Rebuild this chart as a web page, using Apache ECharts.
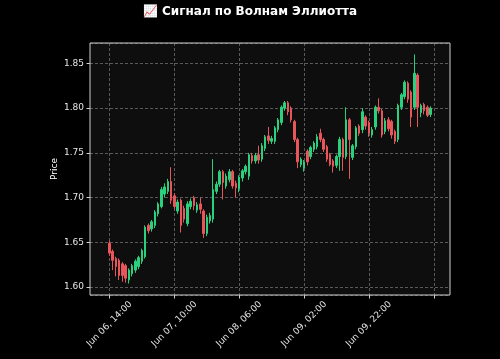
<!DOCTYPE html>
<html>
<head>
<meta charset="utf-8">
<script src="https://cdn.jsdelivr.net/npm/echarts@6/dist/echarts.min.js"></script>
<style>
html,body{margin:0;padding:0;background:#000;}
#chart{width:500px;height:359px;}
</style>
</head>
<body>
<div id="chart"></div>
<script>
// ---- data (hourly candles starting Jun 06, 14:00) ----
const startLabel = 'Jun 06, 14:00';
const openV = [1.649,1.640,1.632,1.630,1.626,1.624,1.608,1.615,1.619,1.623,
1.629,1.634,1.669,1.665,1.669,1.682,1.690,1.704,1.707,1.718,
1.702,1.685,1.697,1.688,1.671,1.690,1.700,1.686,1.693,1.685,
1.660,1.674,1.676,1.707,1.715,1.729,1.713,1.720,1.729,1.716,
1.710,1.722,1.729,1.724,1.747,1.741,1.748,1.743,1.755,1.769,
1.763,1.763,1.776,1.784,1.800,1.806,1.800,1.785,1.765,1.737,
1.733,1.752,1.746,1.754,1.757,1.772,1.765,1.757,1.748,1.741,
1.736,1.746,1.765,1.746,1.787,1.745,1.757,1.780,1.776,1.790,
1.784,1.770,1.779,1.801,1.797,1.774,1.787,1.785,1.774,1.765,
1.801,1.813,1.828,1.818,1.801,1.837,1.795,1.804,1.801,1.793];
const closeV = [1.638,1.630,1.623,1.613,1.613,1.610,1.619,1.624,1.629,1.633,
1.641,1.667,1.663,1.673,1.684,1.693,1.709,1.712,1.718,1.697,
1.690,1.695,1.669,1.676,1.693,1.696,1.691,1.692,1.687,1.660,
1.678,1.680,1.709,1.715,1.729,1.717,1.724,1.729,1.713,1.711,
1.723,1.730,1.735,1.748,1.741,1.747,1.742,1.758,1.768,1.764,
1.766,1.778,1.787,1.801,1.806,1.796,1.787,1.765,1.740,1.743,
1.740,1.740,1.756,1.761,1.768,1.765,1.754,1.743,1.737,1.735,
1.746,1.765,1.745,1.787,1.765,1.758,1.778,1.772,1.796,1.780,
1.772,1.776,1.801,1.797,1.770,1.786,1.777,1.770,1.763,1.803,
1.815,1.829,1.810,1.790,1.839,1.801,1.803,1.797,1.792,1.800];
const lowV = [1.635,1.619,1.612,1.608,1.606,1.605,1.604,1.612,1.616,1.620,
1.626,1.632,1.660,1.662,1.666,1.679,1.688,1.700,1.704,1.693,
1.687,1.682,1.661,1.672,1.668,1.687,1.686,1.683,1.682,1.655,
1.657,1.671,1.672,1.704,1.712,1.698,1.710,1.717,1.710,1.700,
1.706,1.718,1.726,1.720,1.738,1.738,1.738,1.740,1.752,1.760,
1.760,1.760,1.773,1.781,1.797,1.792,1.784,1.762,1.733,1.734,
1.729,1.736,1.743,1.751,1.754,1.762,1.751,1.740,1.735,1.728,
1.733,1.730,1.730,1.743,1.721,1.742,1.754,1.769,1.772,1.776,
1.768,1.767,1.776,1.794,1.767,1.771,1.774,1.766,1.760,1.762,
1.798,1.810,1.806,1.779,1.798,1.779,1.790,1.793,1.790,1.790];
const highV = [1.652,1.642,1.634,1.632,1.628,1.626,1.621,1.626,1.631,1.635,
1.643,1.669,1.671,1.675,1.686,1.695,1.712,1.716,1.721,1.734,
1.705,1.698,1.699,1.691,1.696,1.699,1.702,1.695,1.700,1.687,
1.681,1.683,1.743,1.718,1.731,1.731,1.727,1.732,1.731,1.719,
1.725,1.732,1.737,1.750,1.750,1.750,1.758,1.761,1.770,1.779,
1.769,1.780,1.789,1.803,1.808,1.808,1.802,1.787,1.767,1.745,
1.742,1.754,1.758,1.763,1.771,1.777,1.767,1.759,1.750,1.743,
1.748,1.768,1.767,1.801,1.789,1.760,1.780,1.782,1.800,1.792,
1.786,1.779,1.803,1.811,1.799,1.789,1.790,1.787,1.776,1.805,
1.817,1.831,1.830,1.820,1.860,1.839,1.805,1.806,1.803,1.802];
const tickLabels = ['Jun 06, 14:00','Jun 07, 10:00','Jun 08, 06:00','Jun 09, 02:00','Jun 09, 22:00',''];
const tickEvery = 20;
const titleText = '📈 Сигнал по Волнам Эллиотта';
const yName = 'Price';

// ---- build axis categories (padding slots emulate plot margins) ----
const PAD = 6;
const n = openV.length;
const cats = [];
for (let i = -PAD; i < n + PAD; i++) cats.push('c' + i);
const candle = [];
for (let i = 0; i < PAD; i++) candle.push('-');
for (let i = 0; i < n; i++) candle.push([openV[i], closeV[i], lowV[i], highV[i]]);
for (let i = 0; i < PAD; i++) candle.push('-');

const lo = Math.min(...lowV), hi = Math.max(...highV);
const m = (hi - lo) * 0.05;
const isTick = idx => (idx - PAD) >= 0 && (idx - PAD) % tickEvery === 0;

const GREEN = '#2bd07f', RED = '#e8565b';
const chart = echarts.init(document.getElementById('chart'), null, {renderer: 'canvas'});
chart.setOption({
  backgroundColor: '#000000',
  animation: false,
  title: {
    text: titleText, left: 'center', top: 1,
    textStyle: {color: '#ffffff', fontSize: 12, fontWeight: 'bold', fontFamily: 'DejaVu Sans'}
  },
  grid: {
    left: 90, right: 50, top: 43, bottom: 64, show: true,
    backgroundColor: '#0e0e0e', borderColor: '#cfcfcf', borderWidth: 1
  },
  xAxis: {
    type: 'category', data: cats, boundaryGap: false,
    axisLine: {show: false},
    axisTick: {show: true, interval: isTick, length: 3.5, lineStyle: {color: '#cfcfcf'}},
    axisLabel: {
      interval: isTick, rotate: 45, color: '#e6e6e6', fontSize: 9, fontFamily: 'DejaVu Sans',
      align: 'center', verticalAlign: 'middle', margin: 29,
      formatter: (v, idx) => tickLabels[(idx - PAD) / tickEvery] || ''
    },
    splitLine: {show: true, interval: isTick, lineStyle: {color: 'rgba(190,190,190,0.55)', type: [3, 2], width: 0.8}}
  },
  yAxis: {
    type: 'value', min: lo - m, max: hi + m, splitNumber: 5, scale: true,
    name: yName, nameLocation: 'middle', nameRotate: 90, nameGap: 31, nameMoveOverlap: false,
    nameTextStyle: {color: '#ffffff', fontSize: 9, fontFamily: 'DejaVu Sans'},
    axisLine: {show: false},
    axisTick: {show: true, length: 3.5, lineStyle: {color: '#cfcfcf'}},
    axisLabel: {
      color: '#e6e6e6', fontSize: 9, fontFamily: 'DejaVu Sans', margin: 6,
      showMinLabel: false, showMaxLabel: false,
      formatter: v => v.toFixed(2)
    },
    splitLine: {show: true, lineStyle: {color: 'rgba(190,190,190,0.55)', type: [3, 2], width: 0.8}}
  },
  series: [{
    type: 'candlestick', data: candle, barWidth: 2, clip: false,
    itemStyle: {color: GREEN, color0: RED, borderColor: GREEN, borderColor0: RED, borderWidth: 1}
  }]
});
</script>
</body>
</html>
